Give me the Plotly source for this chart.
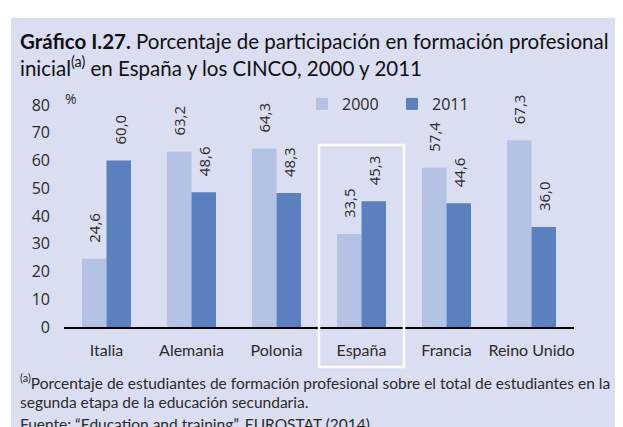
import plotly.graph_objects as go

categories = ["Italia", "Alemania", "Polonia", "España", "Francia", "Reino Unido"]
values_2000 = [24.6, 63.2, 64.3, 33.5, 57.4, 67.3]
values_2011 = [60.0, 48.6, 48.3, 45.3, 44.6, 36.0]
series_names = ["2000", "2011"]
y_ticks = [0, 10, 20, 30, 40, 50, 60, 70, 80]
highlight = "España"

W, H = 623, 427
L, R, T, B = 56, 57, 97, 108
PW, PH = W - L - R, H - T - B

def xp(px):
    return (px - L) / PW

def yp(py):
    return (H - B - py) / PH

BG = "#D9DEF0"
C2000 = "#B4C3E3"
C2011 = "#5A80BF"
TXT = "#2b2b2b"
FONT = "Open Sans"
NARROW = "Lato"

fig = go.Figure()
fig.add_trace(go.Bar(x=categories, y=values_2000, name=series_names[0],
                     marker=dict(color=C2000, line=dict(width=0))))
fig.add_trace(go.Bar(x=categories, y=values_2011, name=series_names[1],
                     marker=dict(color=C2011, line=dict(width=0))))

ann = []
for vals, shift in ((values_2000, -12.5), (values_2011, 12.5)):
    for c, v in zip(categories, vals):
        ann.append(dict(x=c, y=v, xref="x", yref="y", text=f"{v:.1f}".replace(".", ","),
                        textangle=-90, showarrow=False, xanchor="center", yanchor="bottom",
                        xshift=shift, yshift=14, font=dict(family=FONT, size=15, color=TXT)))

ann.append(dict(x=xp(55), y=yp(90), xref="paper", yref="paper", text="%", showarrow=False,
                xanchor="left", yanchor="middle", font=dict(family=FONT, size=14, color=TXT)))

ann.append(dict(x=xp(10), y=yp(33), xref="paper", yref="paper", showarrow=False,
                xanchor="left", yanchor="middle",
                text="<b>Gráfico I.27.</b> Porcentaje de participación en formación profesional",
                font=dict(family=NARROW, size=20.5, color="#111")))
ann.append(dict(x=xp(10), y=yp(58), xref="paper", yref="paper", showarrow=False,
                xanchor="left", yanchor="middle",
                text="inicial<sup>(a)</sup> en España y los CINCO, 2000 y 2011",
                font=dict(family=NARROW, size=20.5, color="#111")))

foot = [
    (373, "<sup>(a)</sup>Porcentaje de estudiantes de formación profesional sobre el total de estudiantes en la"),
    (394, "segunda etapa de la educación secundaria."),
    (416, "Fuente: “Education and training”, EUROSTAT (2014)."),
]
for py, t in foot:
    ann.append(dict(x=xp(10), y=yp(py), xref="paper", yref="paper", showarrow=False,
                    xanchor="left", yanchor="middle", text=t,
                    font=dict(family=NARROW, size=15.5, color=TXT)))

idx = categories.index(highlight)
shapes = [
    dict(type="rect", xref="paper", yref="paper", x0=xp(3), x1=xp(622), y0=yp(427), y1=yp(10),
         fillcolor=BG, line=dict(width=0), layer="below"),
    dict(type="rect", xref="paper", yref="paper", x0=idx / len(categories), x1=(idx + 1) / len(categories),
         y0=yp(359), y1=yp(137), line=dict(color="white", width=2.5), fillcolor="rgba(0,0,0,0)",
         layer="above"),
]

fig.update_layout(
    width=W, height=H,
    margin=dict(l=L, r=R, t=T, b=B, pad=0),
    paper_bgcolor="white", plot_bgcolor="rgba(0,0,0,0)",
    barmode="group", bargap=0.4235, bargroupgap=0,
    showlegend=True,
    legend=dict(orientation="h", x=xp(294), y=yp(96), xanchor="left", yanchor="middle",
                bgcolor="rgba(0,0,0,0)", font=dict(family=FONT, size=16, color=TXT),
                entrywidth=45, entrywidthmode="pixels", itemwidth=30,
                traceorder="normal"),
    xaxis=dict(showline=True, linecolor="black", linewidth=1.5, showgrid=False,
               ticks="", tickfont=dict(family=NARROW, size=16, color=TXT),
               ticklabelstandoff=8, fixedrange=True),
    yaxis=dict(range=[0, 80], tickvals=y_ticks, showgrid=False, zeroline=False, showline=False,
               ticks="", tickfont=dict(family=FONT, size=16, color=TXT), ticklabelstandoff=13,
               fixedrange=True),
    annotations=ann, shapes=shapes,
    font=dict(family=FONT, color=TXT),
)

fig.write_html("out.html")
